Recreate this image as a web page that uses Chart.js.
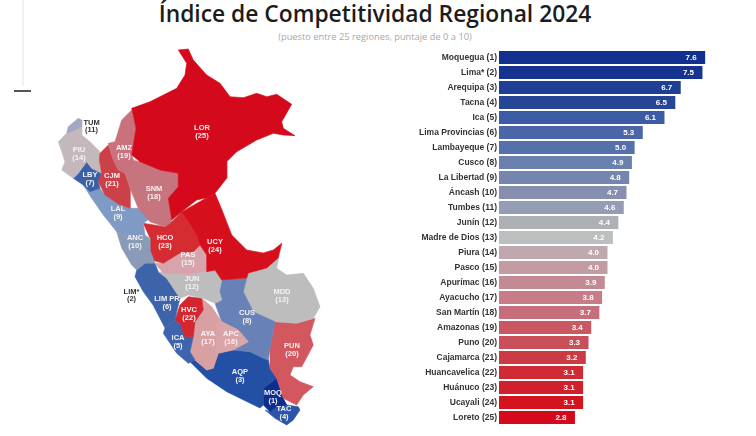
<!DOCTYPE html>
<html>
<head>
<meta charset="utf-8">
<title>Índice de Competitividad Regional 2024</title>
<script src="https://cdn.jsdelivr.net/npm/chart.js@4"></script>
<style>
  html, body { margin: 0; padding: 0; background: #fff; }
  #page { position: relative; width: 756px; height: 436px; overflow: hidden; font-family: "Open Sans", sans-serif; }
  #title { position: absolute; left: 0; width: 750px; top: -2px; text-align: center; font-size: 22.8px; font-weight: 600; color: #1c1c1c; white-space: nowrap; }
  #subtitle { position: absolute; left: 0; width: 750px; top: 30px; text-align: center; font-size: 9.3px; color: #a8a8a8; white-space: nowrap; }
  #sideLine { position: absolute; left: 22px; top: 0; width: 2px; height: 86px; background: #f2f2f2; }
  #sideMark { position: absolute; left: 14px; top: 90px; width: 17px; height: 2px; background: #555; }
  #mapBox { position: absolute; left: 40px; top: 40px; width: 300px; height: 396px; }
  #barBox { position: absolute; left: 400px; top: 50px; width: 316px; height: 375px; }
</style>
</head>
<body>
<div id="page">
  <div id="title">Índice de Competitividad Regional 2024</div>
  <div id="subtitle">(puesto entre 25 regiones, puntaje de 0 a 10)</div>
  <div id="sideLine"></div>
  <div id="sideMark"></div>
  <div id="mapBox"><canvas id="mapChart" width="300" height="396"></canvas></div>
  <div id="barBox"><canvas id="barChart" width="316" height="375"></canvas></div>
</div>
<script>
// Ranking
const regions = ['Moquegua (1)','Lima* (2)','Arequipa (3)','Tacna (4)','Ica (5)','Lima Provincias (6)','Lambayeque (7)','Cusco (8)','La Libertad (9)','Áncash (10)','Tumbes (11)','Junín (12)','Madre de Dios (13)','Piura (14)','Pasco (15)','Apurímac (16)','Ayacucho (17)','San Martín (18)','Amazonas (19)','Puno (20)','Cajamarca (21)','Huancavelica (22)','Huánuco (23)','Ucayali (24)','Loreto (25)'];
const scores = [7.6,7.5,6.7,6.5,6.1,5.3,5.0,4.9,4.8,4.7,4.6,4.4,4.2,4.0,4.0,3.9,3.8,3.7,3.4,3.3,3.2,3.1,3.1,3.1,2.8];

// Colour of each bar by rank, blue to grey to red
const rankColors = ['#12308f','#16348f','#1f3f94','#264596','#3c5ba4','#4a66a8','#5571ac','#6a80ae','#7485ae','#868fb0','#959cb6','#adb0b5','#bdbebf','#bfa9ae','#c29ba3','#c38a94','#c77c88','#c66e7c','#c95863','#c9505a','#cc3a44','#d02a35','#cf202b','#d3141f','#d5091c'];

// Map regions: code, rank, outline and label spot
const mapCodes = ['LOR','AMZ','SNM','CJM','TUM','PIU','LBY','LAL','ANC','UCY','HCO','PAS','JUN','LIM PR','LIM*','HVC','ICA','AYA','APC','CUS','MDD','PUN','AQP','MOQ','TAC'];
const mapRanks = [25,19,18,21,11,14,7,9,10,24,23,15,12,6,2,22,5,17,16,8,13,20,3,1,4];
// The map tints are a bit brighter than the bars
const mapColors = ['#d5091c','#c9727c','#c6747e','#cc4048','#a0a8c4','#c4b8bc','#3a60a8','#7f9ac5','#8a9bb8','#d5101c','#d42c30','#d6a4aa','#bdbdbd','#3d63ab','#0d2e8e','#d4262e','#3f64ad','#d9a0a4','#dba4a8','#6882b8','#bdbdbd','#d2575f','#2350a5','#0d2e8e','#2a55a8'];
const mapOutlines = [
  [[178.3,50],[188.3,49],[193.3,60],[206.7,75],[220,83.3],[230,96.7],[243.3,97.7],[256.7,93.3],[266.7,96.7],[276.7,94.3],[291.7,104.3],[281.7,121.7],[283.3,128.3],[295,135.7],[283.3,135],[273.3,133.3],[256.7,140],[236.7,151.7],[226.7,161.7],[226.7,178.3],[215,193.3],[206.7,197.7],[196.7,200],[181.7,211.7],[171.7,220],[168.3,198.3],[178.3,186.7],[178.3,173.3],[160,170],[140,161.7],[131.7,155],[136,128.3],[131.7,108.3],[150,101.7],[176.7,88.3],[185,75],[186.7,63.3]],
  [[131.7,110],[136,128.3],[131.7,155],[133.3,160],[125,173.3],[118.3,170],[113.3,160],[108.3,143.3],[115,141.7],[121.7,120]],
  [[131.7,160],[140,161.7],[160,170],[178.3,173.3],[178.3,186.7],[168.3,198.3],[171.7,221.7],[165,226.7],[150,221.7],[138.3,208.3],[130,188.3],[125,173.3]],
  [[108.3,145],[113.3,160],[118.3,170],[125,173.3],[130,188.3],[130,208.3],[118.3,204],[105,195],[98.3,181.7],[101.7,173.3],[99.3,160],[100,153.3]],
  [[78.3,118.3],[81.7,120],[81.7,126.7],[73.3,131],[66.7,133.3],[68.3,126.7]],
  [[58.3,141.7],[66.7,133.3],[73.3,131],[81.7,126.7],[81.7,135],[90,141.7],[100,151.7],[99.3,160],[101.7,173.3],[91.7,168.3],[86.7,161.7],[78.3,173.3],[73.3,178.3],[61.7,170],[65,161.7],[61.7,151.7]],
  [[86.7,161.7],[91.7,168.3],[101.7,173.3],[98.3,181.7],[100,188.3],[90,191.7],[83.3,185],[73.3,178.3],[78.3,173.3]],
  [[83.3,185],[90,191.7],[100,188.3],[105,195],[118.3,204],[130,208.3],[138.3,208.3],[150,218.3],[143.3,223.3],[145,235],[130,235],[116.7,231.7],[103.3,215],[91.7,198.3]],
  [[116.7,231.7],[130,235],[145,235],[149,238],[150,250],[155,263],[145,263],[136.7,270],[131.7,265],[121.7,248]],
  [[206.7,197.7],[215,193.3],[222,210],[231.7,235],[246.7,250],[263.3,253],[273.3,250],[281.7,243.3],[278,258],[266.7,268],[248.3,273],[246.7,278],[221.7,280],[215,270],[206.7,271.7],[206.7,255],[200,245],[196.7,235],[181.7,212]],
  [[143.3,223.3],[165,226.7],[171.7,221.7],[181.7,212],[190,225],[196.7,235],[200,245],[193.3,251.7],[180,253],[163.3,263.3],[151.7,260],[150,251.7],[150,238]],
  [[163.3,263.3],[180,253.3],[193.3,251.7],[200,245],[206.7,255],[206.7,271.7],[201.7,271.7],[190,275],[170,273.3],[163.3,273.3],[155,263.3]],
  [[158.3,271.7],[170,273.3],[190,275],[201.7,271.7],[215,270],[221.7,280],[219.3,291.7],[221.7,300],[215,303.3],[203.3,298.3],[188.3,295],[180,298.3],[166.7,278.3]],
  [[136.7,270],[145,263.3],[155,263.3],[158.3,271.7],[166.7,278.3],[180,298.3],[176.7,311.7],[175,320],[165,328],[153,305],[143.3,291.7],[135,276.7]],
  [[145,290],[155,300],[151.7,300],[146.7,295]],
  [[188.3,296.7],[201.7,298.3],[203.3,310],[195,321.7],[193.3,336.7],[185,336.7],[180,323.3],[175,320],[180,305]],
  [[175,320],[180,323.3],[185,336.7],[193.3,336.7],[190,351.7],[195,360],[188.3,363.3],[176.7,353.3],[163.3,333.3],[165,328]],
  [[201.7,298.3],[211.7,306.7],[221.7,321.7],[215,325],[215,345],[218.3,353.3],[213.3,368.3],[206.7,370],[195,360],[190,351.7],[193.3,336.7],[195,321.7],[203.3,310]],
  [[221.7,321.7],[238.3,330],[248.3,341.7],[233.3,350],[218.3,353.3],[215,345],[215,325]],
  [[221.7,280],[246.7,278.3],[243.3,291.7],[253.3,311.7],[275,321.7],[270,348.3],[268.3,360],[263.3,358.3],[250,351.7],[233.3,350],[248.3,341.7],[238.3,330],[221.7,321.7],[215,303.3],[221.7,300],[219.3,291.7]],
  [[281.7,243.3],[276.7,268.3],[286.7,275],[303.3,273.3],[313.3,288.3],[320,306.7],[313.3,318.3],[296.7,323.3],[275,321.7],[253.3,311.7],[243.3,291.7],[246.7,278.3],[248.3,273.3],[266.7,268.3]],
  [[275,321.7],[296.7,323.3],[315,318.3],[310,335],[313.3,345],[301.7,366.7],[293.3,366.7],[290,375],[300,381.7],[313.3,386.7],[303.3,395],[296.7,405],[283.3,398.3],[276.7,378.3],[270,368.3],[270,348.3]],
  [[190,361.7],[195,360],[206.7,370],[213.3,368.3],[218.3,353.3],[233.3,350],[250,351.7],[268.3,360],[270,368.3],[276.7,378.3],[271.7,381.7],[263.3,388.3],[263.3,405],[260,408],[226.7,391.7],[206.7,378.3]],
  [[271.7,381.7],[276.7,378.3],[283.3,398.3],[286.7,405],[276.7,406.7],[270,411.7],[263.3,405],[263.3,388.3]],
  [[286.7,405],[298.3,406.7],[300,410],[293.3,420],[286.7,425],[275,418.3],[265,410],[270,411.7],[276.7,406.7]]
];
const labelSpots = [[202,132],[124,152],[154,193],[112,180],[91.5,126.5],[79,154],[90,179],[118,213],[135,242],[215,246],[165,242],[188,259],[192,283],[167,303],[131.5,295.5],[189,314],[178,342],[208,338],[231,338],[247,317],[282,296],[292,350],[240,376],[273,397],[284,413]];
// Labels printed in dark text, outside the coloured area
const darkLabels = ['TUM','LIM*'];

const labelFont = 'bold 7.5px "Liberation Sans", sans-serif';

// Writes the score inside the end of each bar
const barValues = {
  id: 'barValues',
  afterDatasetsDraw(chart) {
    const ctx = chart.ctx;
    ctx.save();
    ctx.font = 'bold 8px "Liberation Sans", sans-serif';
    ctx.fillStyle = '#ffffff';
    ctx.textAlign = 'center';
    ctx.textBaseline = 'middle';
    chart.getDatasetMeta(0).data.forEach((bar, i) => {
      ctx.fillText(scores[i].toFixed(1), bar.x - 14, bar.y);
    });
    ctx.restore();
  }
};

// Writes code and rank on each region, placed through the scales
const mapLabels = {
  id: 'mapLabels',
  afterDatasetsDraw(chart) {
    const ctx = chart.ctx;
    const xScale = chart.scales.x;
    const yScale = chart.scales.y;
    ctx.save();
    ctx.font = labelFont;
    ctx.textAlign = 'center';
    ctx.textBaseline = 'middle';
    mapCodes.forEach((code, i) => {
      const x = xScale.getPixelForValue(labelSpots[i][0]);
      const y = yScale.getPixelForValue(labelSpots[i][1]);
      ctx.fillStyle = darkLabels.includes(code) ? '#333333' : '#f4f4f4';
      ctx.fillText(code, x, y - 3.8);
      ctx.fillText('(' + mapRanks[i] + ')', x, y + 3.8);
    });
    ctx.restore();
  }
};

new Chart('barChart', {
  type: 'bar',
  data: {
    labels: regions,
    datasets: [{
      data: scores,
      backgroundColor: rankColors,
      barPercentage: 0.88,
      categoryPercentage: 1
    }]
  },
  options: {
    indexAxis: 'y',
    responsive: false,
    animation: false,
    layout: { padding: 0 },
    plugins: { legend: { display: false }, tooltip: { enabled: false } },
    scales: {
      x: { display: false, min: 0, max: 8 },
      y: {
        // keep the plot edge fixed and let the rows use the full height
        afterFit(scale) {
          scale.width = 99;
          scale.paddingTop = 0;
          scale.paddingBottom = 0;
        },
        grid: { display: false, drawTicks: false },
        border: { display: false },
        ticks: {
          autoSkip: false,
          padding: 2,
          color: '#333333',
          font: { family: '"Liberation Sans", sans-serif', size: 8.5, weight: 'bold' }
        }
      }
    }
  },
  plugins: [barValues]
});

new Chart('mapChart', {
  type: 'scatter',
  data: {
    datasets: mapOutlines.map((outline, i) => {
      const points = outline.concat([outline[0]]).map(p => ({ x: p[0], y: p[1] }));
      return {
        label: mapCodes[i],
        data: points,
        showLine: true,
        fill: 'shape',
        tension: 0,
        pointRadius: 0,
        borderWidth: 0.6,
        borderColor: mapColors[i],
        backgroundColor: mapColors[i]
      };
    })
  },
  options: {
    responsive: false,
    animation: false,
    layout: { padding: 0 },
    plugins: { legend: { display: false }, tooltip: { enabled: false } },
    scales: {
      x: { display: false, type: 'linear', min: 40, max: 340 },
      y: { display: false, type: 'linear', min: 40, max: 436, reverse: true }
    }
  },
  plugins: [mapLabels]
});
</script>
</body>
</html>
